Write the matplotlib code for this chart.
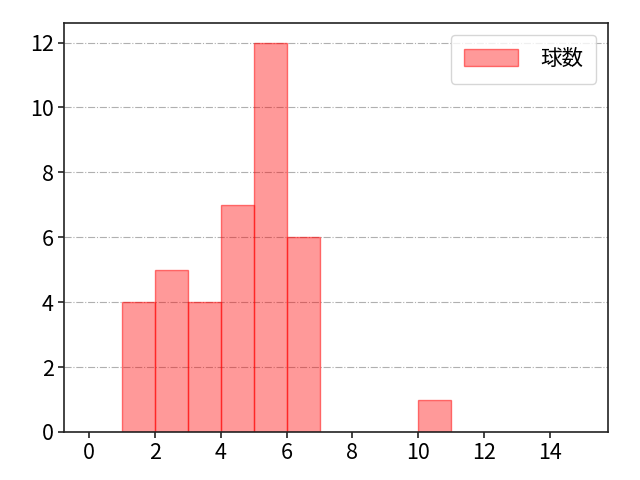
import matplotlib
matplotlib.use("Agg")
import matplotlib.pyplot as plt
import numpy as np

plt.rcParams['font.family'] = ['Noto Sans CJK JP', 'DejaVu Sans']

bin_left = [1, 2, 3, 4, 5, 6, 10]
counts = [4, 5, 4, 7, 12, 6, 1]
label = "球数"
xticks = [0, 2, 4, 6, 8, 10, 12, 14]

fig = plt.figure(figsize=(6.4, 4.8), dpi=100)
ax = fig.add_axes([0.1, 0.1, 0.85, 0.852])
ax.bar(bin_left, counts, width=1, align='edge', color=(1, 0, 0, 0.4),
       edgecolor=(1, 0, 0, 0.5), linewidth=1, label=label)
ax.set_xlim(-0.75, 15.75)
ax.set_ylim(0, 12.6)
ax.set_xticks(xticks)
ax.set_yticks(range(0, 13, 2))
ax.yaxis.grid(True, linestyle='-.', color='#b0b0b0', linewidth=0.8)
ax.set_axisbelow(True)
ax.tick_params(labelsize=15.5, length=4.5, width=1.2, color='#222222', pad=3)
for s in ax.spines.values():
    s.set_linewidth(1.2)
    s.set_color('#222222')
ax.legend(loc='upper right', fontsize=15.5, handlelength=2.5, handleheight=0.85,
          handletextpad=1.0, borderpad=0.62, borderaxespad=0.55)
fig.savefig("out.png", dpi=100)
